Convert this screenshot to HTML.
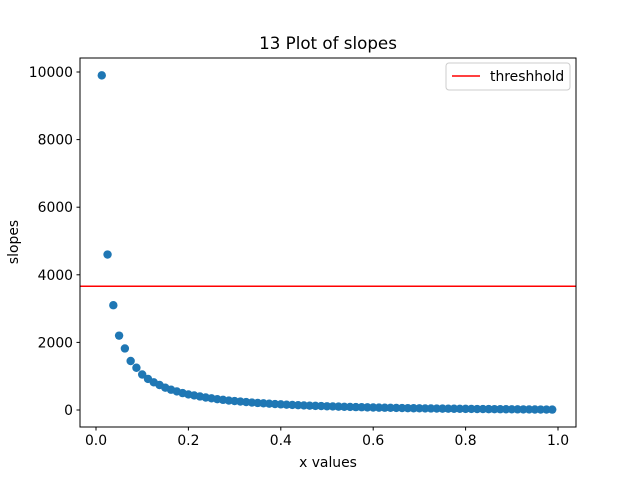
<!DOCTYPE html>
<html><head><meta charset="utf-8"><style>
body{margin:0;background:#fff;}
svg text{font-family:"DejaVu Sans","Liberation Sans",sans-serif;}
</style></head><body>
<svg id="chart" width="640" height="480" viewBox="0 0 640 480" xmlns="http://www.w3.org/2000/svg">
<rect x="0" y="0" width="640" height="480" fill="#fff"/>
<text x="328" y="49" font-size="16.7" text-anchor="middle">13 Plot of slopes</text>
<g id="plot"></g>
<rect x="80" y="58" width="496" height="369" fill="none" stroke="#000" stroke-width="1"/>
<text x="328" y="467" font-size="13.9" text-anchor="middle">x values</text>
<text x="0" y="0" font-size="13.9" text-anchor="middle" transform="translate(18,242) rotate(-90)">slopes</text>
<g>
<rect x="446" y="63" width="124" height="27" fill="#fff" stroke="#ccc" rx="3"/>
<line x1="452" y1="76" x2="480" y2="76" stroke="red" stroke-width="1.5"/>
<text x="490" y="81" font-size="13.9">threshhold</text>
</g>
</svg>
<script>
const yValues=[9900,4600,3100,2200,1820,1450,1250,1050,920,820,740,660,600,550,500,460,430,400,370,345,320,300,280,265,250,235,220,208,197,186,176,167,158,150,142,135,128,122,116,110,105,100,95,90,86,82,78,74,70,67,64,61,58,55,52,50,47,45,43,41,39,37,35,33,31,29,28,26,25,23,22,20,19,18,17,15,14,13,12];
const xStep=0.0125;
const threshold=3660;
const xTicks=[0,0.2,0.4,0.6,0.8,1.0];
const xTickLabels=["0.0","0.2","0.4","0.6","0.8","1.0"];
const yTicks=[0,2000,4000,6000,8000,10000];
const yTickLabels=["0","2000","4000","6000","8000","10000"];
const NS="http://www.w3.org/2000/svg";
const X=v=>96+v*462;
const Y=v=>410-v*0.0338;
const g=document.getElementById('plot');
const svg=document.getElementById('chart');
function mk(t,a,p){const e=document.createElementNS(NS,t);for(const k in a)e.setAttribute(k,a[k]);(p||g).appendChild(e);return e;}
yValues.forEach((v,i)=>{
  const c=mk('circle',{cx:X((i+1)*xStep),cy:Y(v),r:4.2,fill:'#1f77b4'});
  
  
});
const tl=mk('line',{x1:80,x2:576,y1:Y(threshold),y2:Y(threshold),stroke:'red','stroke-width':1.5});


xTicks.forEach((v,i)=>{
  const l=mk('line',{x1:X(v),x2:X(v),y1:427,y2:430.5,stroke:'#000'},svg);
  
  
  const t=mk('text',{x:X(v),y:445,'font-size':13.9,'text-anchor':'middle'},svg);
  t.textContent=xTickLabels[i];
  
  
});
yTicks.forEach((v,i)=>{
  const l=mk('line',{x1:76.5,x2:80,y1:Y(v),y2:Y(v),stroke:'#000'},svg);
  
  
  const t=mk('text',{x:73,y:Y(v)+5,'font-size':13.9,'text-anchor':'end'},svg);
  t.textContent=yTickLabels[i];
  
  
});
</script>
</body></html>
